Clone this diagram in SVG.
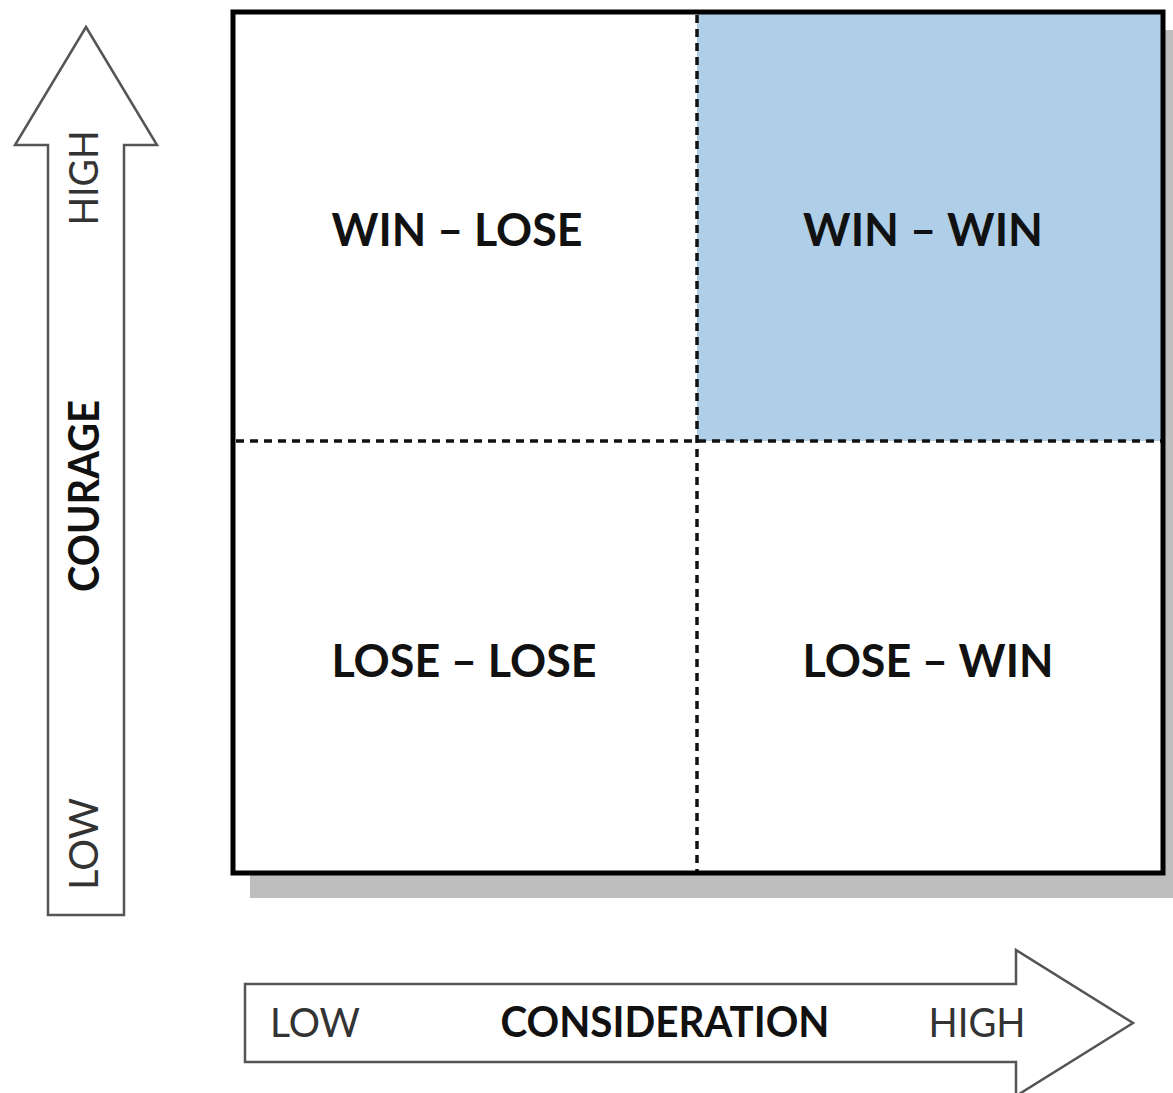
<svg xmlns="http://www.w3.org/2000/svg" width="1173" height="1093" viewBox="0 0 1173 1093">
  <style>
    .arrow { fill: #ffffff; stroke: #555555; stroke-width: 2.5; stroke-linejoin: miter; }
    .quad { font-family: Lato, "Open Sans", "Liberation Sans", sans-serif; font-weight: bold; font-size: 46px; fill: #111111; text-anchor: middle; }
    .axis { font-family: Lato, "Open Sans", "Liberation Sans", sans-serif; font-size: 40px; fill: #333333; text-anchor: middle; }
    .axisb { font-family: Lato, "Open Sans", "Liberation Sans", sans-serif; font-weight: bold; font-size: 42px; fill: #111111; text-anchor: middle; }
    .dash { stroke: #111111; stroke-width: 3.5; stroke-dasharray: 8 6; fill: none; }
  </style>
  <rect width="1173" height="1093" fill="#ffffff"/>

  <g id="courage-axis">
    <polygon class="arrow" points="86,27 157,145 124,145 124,915 48,915 48,145 15,145"/>
    <text class="axis" transform="translate(98,178) rotate(-90)" textLength="95" lengthAdjust="spacingAndGlyphs">HIGH</text>
    <text class="axisb" transform="translate(99,496) rotate(-90)" textLength="192" lengthAdjust="spacingAndGlyphs">COURAGE</text>
    <text class="axis" transform="translate(98,844) rotate(-90)" textLength="92" lengthAdjust="spacingAndGlyphs">LOW</text>
  </g>

  <g id="consideration-axis">
    <polygon class="arrow" points="245,984 1016,984 1016,950 1133,1023 1016,1096 1016,1062 245,1062"/>
    <text class="axis" x="315" y="1037" textLength="90" lengthAdjust="spacingAndGlyphs">LOW</text>
    <text class="axisb" x="665" y="1037" textLength="329" lengthAdjust="spacingAndGlyphs">CONSIDERATION</text>
    <text class="axis" x="977" y="1037" textLength="97" lengthAdjust="spacingAndGlyphs">HIGH</text>
  </g>

  <g id="matrix">
    <rect x="250" y="30" width="930" height="868" fill="#bdbdbd"/>
    <rect x="233" y="12" width="930" height="861" fill="#ffffff"/>
    <rect id="win-win-fill" x="697" y="12" width="466" height="429" fill="#afcfe9"/>
  </g>

  <g id="connectors">
    <line class="dash" x1="697" y1="15" x2="697" y2="871"/>
    <line class="dash" x1="236" y1="441" x2="1161" y2="441"/>
  </g>

  <rect x="233" y="12" width="930" height="861" fill="none" stroke="#000000" stroke-width="5"/>

  <g id="win-lose"><text class="quad" x="457" y="246" textLength="251" lengthAdjust="spacingAndGlyphs">WIN – LOSE</text></g>
  <g id="win-win"><text class="quad" x="923" y="246" textLength="240" lengthAdjust="spacingAndGlyphs">WIN – WIN</text></g>
  <g id="lose-lose"><text class="quad" x="464" y="677" textLength="265" lengthAdjust="spacingAndGlyphs">LOSE – LOSE</text></g>
  <g id="lose-win"><text class="quad" x="928" y="677" textLength="251" lengthAdjust="spacingAndGlyphs">LOSE – WIN</text></g>
</svg>
